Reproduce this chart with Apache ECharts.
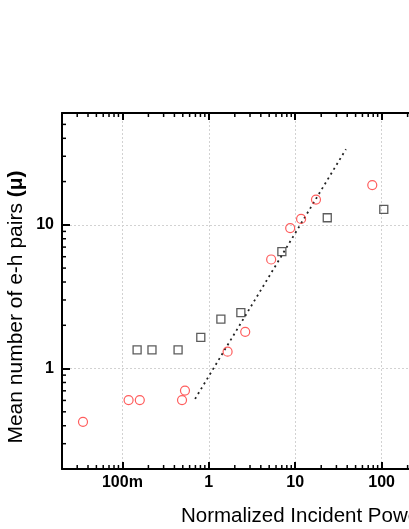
<!DOCTYPE html>
<html>
<head>
<meta charset="utf-8">
<script src="https://cdn.jsdelivr.net/npm/echarts@6/dist/echarts.min.js"></script>
<style>
  html, body { margin: 0; padding: 0; background: #fff; }
  #chart { width: 409px; height: 529px; }
</style>
</head>
<body>
<div id="chart"></div>
<script>
// data (x = normalized incident power, y = mean e-h pairs)
var circleX = [0.035, 0.118, 0.159, 0.49, 0.53, 1.65, 2.64, 5.27, 8.75, 11.7, 17.4, 78];
var circleY = [0.426, 0.603, 0.603, 0.603, 0.703, 1.31, 1.80, 5.74, 9.49, 11.0, 15.0, 18.9];

var squareX = [0.148, 0.22, 0.441, 0.808, 1.38, 2.35, 7.01, 23.5, 106];
var squareY = [1.35, 1.35, 1.35, 1.65, 2.21, 2.45, 6.52, 11.2, 12.8];

// dotted guide line
var fitX = [0.694, 38.7];
var fitY = [0.615, 33.6];

var xMin = 0.02, xMax = 1000;
var yMin = 0.2, yMax = 60;

var xLabels = { 0.1: '100m', 1: '1', 10: '10', 100: '100' };
var yLabels = { 1: '1', 10: '10' };

var xMinorTicks = [0.03, 0.04, 0.05, 0.06, 0.07, 0.08, 0.09,
                   0.2, 0.3, 0.4, 0.5, 0.6, 0.7, 0.8, 0.9,
                   2, 3, 4, 5, 6, 7, 8, 9,
                   20, 30, 40, 50, 60, 70, 80, 90,
                   200, 300, 400, 500, 600, 700, 800, 900];
var yMinorTicks = [0.3, 0.4, 0.5, 0.6, 0.7, 0.8, 0.9,
                   2, 3, 4, 5, 6, 7, 8, 9,
                   20, 30, 40, 50];

function zip(a, b) {
    var out = [];
    for (var i = 0; i < a.length; i++) out.push([a[i], b[i]]);
    return out;
}

var labelFont = { color: '#000', fontSize: 16, fontWeight: 'bold', fontFamily: '"Liberation Sans", Arial, sans-serif' };

var chart = echarts.init(document.getElementById('chart'));

var option = {
    animation: false,
    // plot runs past the right edge of the picture
    grid: { left: 62, top: 113, width: 406, height: 356, outerBoundsMode: 'none', containLabel: false },
    xAxis: [{
        type: 'log', min: xMin, max: xMax, position: 'bottom',
        axisLine: { lineStyle: { color: '#000', width: 2 } },
        axisTick: { inside: true, length: 7, lineStyle: { color: '#000', width: 2 } },
        axisLabel: Object.assign({ margin: 6, showMinLabel: false, showMaxLabel: false,
            formatter: function (v) { return xLabels[v] || ''; } }, labelFont),
        splitLine: { show: true, lineStyle: { color: '#d2d2d2', width: 1, type: [2, 2] } }
    }, {
        type: 'log', min: xMin, max: xMax, position: 'top',
        axisLine: { lineStyle: { color: '#000', width: 2 } },
        axisTick: { inside: true, length: 7, lineStyle: { color: '#000', width: 2 } },
        axisLabel: { show: false },
        splitLine: { show: false }
    }],
    yAxis: [{
        type: 'log', min: yMin, max: yMax,
        axisLine: { lineStyle: { color: '#000', width: 2 } },
        axisTick: { inside: true, length: 8, lineStyle: { color: '#000', width: 2 } },
        axisLabel: Object.assign({ margin: 8, showMinLabel: false, showMaxLabel: false,
            formatter: function (v) { return yLabels[v] || ''; } }, labelFont),
        splitLine: { show: true, lineStyle: { color: '#d2d2d2', width: 1, type: [2, 2] } }
    }],
    graphic: [{
        type: 'text', x: 181, y: 516,
        style: {
            text: 'Normalized Incident Power',
            font: '20.5px "Liberation Sans", Arial, sans-serif',
            fill: '#000', textAlign: 'left', textVerticalAlign: 'middle'
        }
    }, {
        type: 'text', x: 16, y: 307, rotation: Math.PI / 2,
        style: {
            text: '{a|Mean number of e-h pairs }{b|(μ)}',
            fill: '#000', align: 'center', verticalAlign: 'middle',
            rich: {
                a: { fontSize: 21, fontFamily: '"Liberation Sans", Arial, sans-serif', fill: '#000' },
                b: { fontSize: 21, fontWeight: 'bold', fontFamily: '"Liberation Sans", Arial, sans-serif', fill: '#000' }
            }
        }
    }],
    series: [{
        // minor ticks on the x axes (bottom and top)
        type: 'custom',
        silent: true,
        data: xMinorTicks.map(function (v) { return [v, yMin]; }),
        renderItem: function (params, api) {
            var p = api.coord([api.value(0), api.value(1)]);
            var cs = params.coordSys;
            var st = { stroke: '#000', lineWidth: 1.5 };
            return {
                type: 'group',
                children: [
                    { type: 'line', shape: { x1: p[0], y1: cs.y + cs.height, x2: p[0], y2: cs.y + cs.height - 4 }, style: st },
                    { type: 'line', shape: { x1: p[0], y1: cs.y, x2: p[0], y2: cs.y + 4 }, style: st }
                ]
            };
        }
    }, {
        // minor ticks on the y axis
        type: 'custom',
        silent: true,
        data: yMinorTicks.map(function (v) { return [xMin, v]; }),
        renderItem: function (params, api) {
            var p = api.coord([api.value(0), api.value(1)]);
            var cs = params.coordSys;
            return {
                type: 'line',
                shape: { x1: cs.x, y1: p[1], x2: cs.x + 4, y2: p[1] },
                style: { stroke: '#000', lineWidth: 1.5 }
            };
        }
    }, {
        type: 'line',
        data: zip(fitX, fitY),
        showSymbol: false,
        symbol: 'none',
        lineStyle: { color: '#222', width: 1.8, type: [2, 3.7] },
        z: 3
    }, {
        type: 'scatter',
        data: zip(squareX, squareY),
        symbol: 'rect',
        symbolSize: 8,
        itemStyle: { color: 'rgba(0,0,0,0)', borderColor: '#333', borderWidth: 1.3 },
        z: 4
    }, {
        type: 'scatter',
        data: zip(circleX, circleY),
        symbol: 'circle',
        symbolSize: 9,
        itemStyle: { color: 'rgba(0,0,0,0)', borderColor: '#ff3535', borderWidth: 1.2 },
        z: 5
    }]
};

chart.setOption(option);
</script>
</body>
</html>
